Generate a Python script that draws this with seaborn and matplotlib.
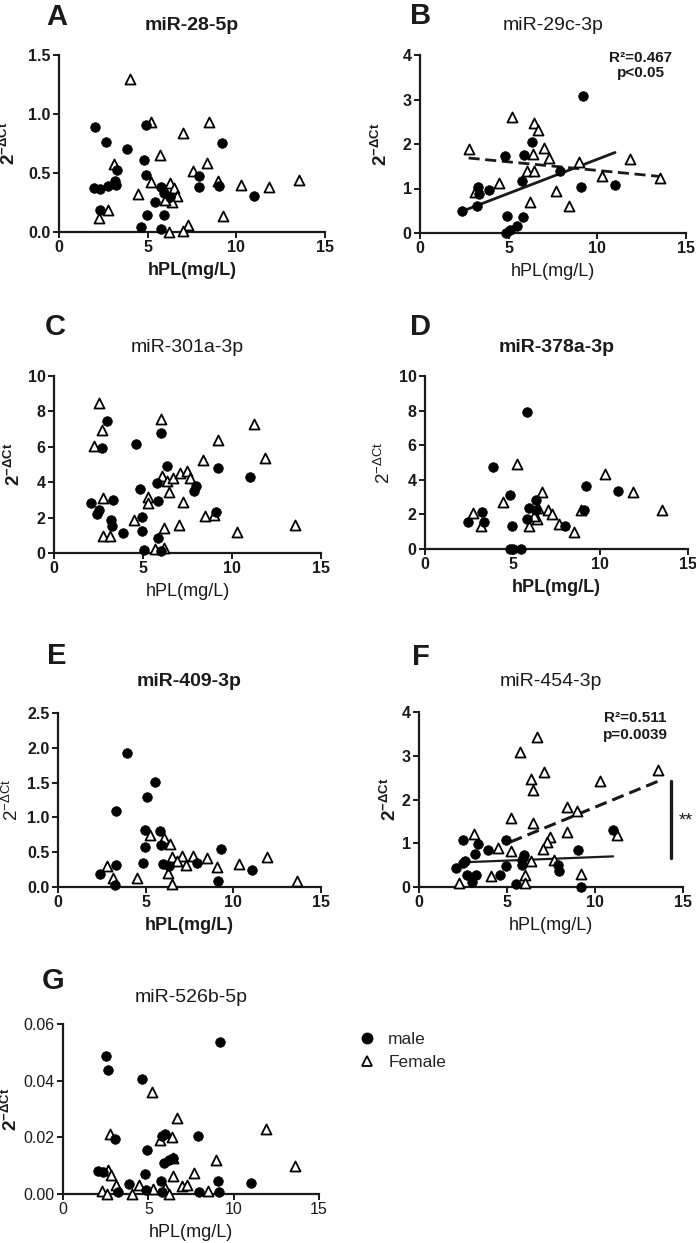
import numpy as np
import pandas as pd
import matplotlib
matplotlib.use("Agg")
import matplotlib.pyplot as plt
from matplotlib.lines import Line2D
import seaborn as sns

# ---- data: hPL (mg/L) vs 2^-dCt, male / female ----
A_male_x = [2.05, 2.63, 3.85, 4.88, 4.81, 4.88, 2.0, 2.33, 2.74, 3.17, 3.27, 3.23, 2.33, 4.62, 4.97,
            5.43, 5.93, 5.76, 5.76, 5.9, 6.27, 7.9, 7.92, 9.18, 9.05, 11.0]
A_male_y = [0.887, 0.763, 0.70, 0.904, 0.607, 0.486, 0.373, 0.364, 0.393, 0.435, 0.523, 0.40, 0.19, 0.04, 0.14,
            0.254, 0.144, 0.023, 0.384, 0.33, 0.294, 0.477, 0.381, 0.754, 0.387, 0.302]
A_fem_x = [4.02, 5.2, 6.98, 8.47, 5.71, 3.08, 8.37, 7.58, 5.2, 6.25, 6.46, 6.65, 6.4, 5.95, 8.99,
           10.25, 11.83, 13.55, 4.43, 2.23, 2.74, 9.24, 7.26, 7.02, 6.18]
A_fem_y = [1.297, 0.935, 0.839, 0.935, 0.655, 0.576, 0.585, 0.514, 0.427, 0.412, 0.373, 0.302, 0.251, 0.274, 0.429,
           0.395, 0.381, 0.443, 0.325, 0.119, 0.184, 0.138, 0.062, 0.006, 0.0]

B_male_x = [9.18, 6.29, 4.82, 5.89, 5.74, 3.27, 3.32, 3.89, 2.38, 3.21, 7.9, 9.09, 11.0, 4.92, 5.8, 5.46, 5.09, 4.86]
B_male_y = [3.07, 2.04, 1.74, 1.75, 1.16, 1.03, 0.876, 0.96, 0.49, 0.60, 1.39, 1.03, 1.08, 0.375, 0.36, 0.15, 0.06, 0.0]
B_fem_x = [2.74, 5.18, 6.42, 6.68, 6.98, 6.38, 7.25, 6.01, 6.44, 4.47, 7.66, 6.21, 8.43, 8.95, 10.25, 11.85, 13.55, 3.1]
B_fem_y = [1.89, 2.61, 2.47, 2.31, 1.90, 1.78, 1.69, 1.40, 1.40, 1.12, 0.94, 0.69, 0.60, 1.59, 1.27, 1.66, 1.23, 0.92]
B_fit_male_x = [2.38, 11.0]
B_fit_male_y = [0.49, 1.81]
B_fit_fem_x = [2.74, 13.55]
B_fit_fem_y = [1.685, 1.27]

C_male_x = [3.0, 2.7, 4.6, 6.0, 6.33, 5.8, 4.82, 5.86, 9.24, 11.02, 7.98, 7.88, 2.08, 2.53, 2.42, 3.34,
            3.23, 3.27, 3.89, 4.92, 4.92, 5.82, 5.05, 6.0, 9.1]
C_male_y = [7.46, 5.92, 6.13, 6.80, 4.92, 3.98, 3.61, 2.91, 4.79, 4.30, 3.76, 3.48, 2.82, 2.44, 2.2, 2.99,
            1.84, 1.50, 1.11, 2.03, 1.22, 0.85, 0.15, 0.13, 2.29]
C_fem_x = [2.53, 2.68, 2.27, 6.03, 11.26, 9.24, 11.88, 8.39, 6.04, 6.35, 6.7, 7.1, 7.49, 7.64, 6.48,
           5.26, 5.26, 7.23, 2.78, 4.5, 8.47, 9.01, 6.19, 7.02, 10.29, 13.55, 2.76, 3.17, 5.69, 6.19]
C_fem_y = [8.5, 6.95, 6.05, 7.59, 7.26, 6.39, 5.38, 5.23, 4.36, 4.04, 4.23, 4.51, 4.61, 4.23, 3.42,
           3.16, 2.82, 2.86, 3.12, 1.84, 2.07, 2.12, 1.43, 1.58, 1.18, 1.58, 0.94, 0.94, 0.23, 0.28]

D_male_x = [5.81, 3.9, 4.87, 9.21, 11.0, 6.34, 5.96, 6.34, 5.83, 9.04, 2.44, 3.24, 3.35, 4.95, 7.96, 4.87, 5.0, 5.48]
D_male_y = [7.94, 4.75, 3.10, 3.62, 3.33, 2.81, 2.37, 2.27, 1.75, 2.27, 1.58, 2.13, 1.56, 1.35, 1.31, 0.0, 0.0, 0.0]
D_fem_x = [5.25, 10.24, 11.86, 13.52, 6.68, 4.47, 2.76, 3.2, 6.47, 6.4, 5.96, 7.01, 7.25, 7.63, 8.47, 8.91, 6.24]
D_fem_y = [4.94, 4.33, 3.31, 2.27, 3.31, 2.71, 2.10, 1.31, 2.37, 1.73, 1.35, 2.27, 2.0, 1.44, 0.96, 2.27, 1.88]

E_male_x = [3.91, 5.51, 5.05, 3.32, 4.94, 5.83, 4.94, 5.85, 9.27, 2.39, 3.28, 3.27, 4.86, 6.0, 6.32, 7.94, 11.07, 9.11]
E_male_y = [1.93, 1.51, 1.30, 1.09, 0.82, 0.80, 0.58, 0.60, 0.54, 0.19, 0.32, 0.03, 0.34, 0.33, 0.30, 0.35, 0.24, 0.08]
E_fem_x = [5.24, 6.04, 6.38, 6.51, 7.08, 7.71, 8.5, 6.76, 7.29, 9.04, 10.31, 11.92, 13.63, 2.77, 3.13, 4.48, 6.27, 6.48]
E_fem_y = [0.74, 0.70, 0.62, 0.43, 0.45, 0.45, 0.41, 0.37, 0.31, 0.29, 0.33, 0.43, 0.09, 0.30, 0.13, 0.13, 0.20, 0.04]

F_male_x = [2.52, 3.33, 3.18, 3.9, 4.94, 5.98, 5.86, 5.83, 4.94, 9.04, 11.03, 7.91, 7.94, 2.08, 2.52,
            2.74, 3.23, 2.99, 4.63, 5.49, 9.23, 2.61]
F_male_y = [1.08, 0.98, 0.76, 0.85, 1.08, 0.74, 0.61, 0.51, 0.47, 0.84, 1.31, 0.51, 0.36, 0.43, 0.55,
            0.28, 0.28, 0.11, 0.27, 0.08, 0.0, 0.59]
F_fem_x = [6.71, 5.73, 7.09, 6.34, 6.45, 10.31, 13.58, 8.42, 9.0, 5.22, 6.45, 3.14, 8.42, 11.24, 7.47,
           7.28, 5.2, 4.5, 7.06, 7.68, 6.36, 9.23, 4.09, 6.01, 2.29, 6.01]
F_fem_y = [3.44, 3.08, 2.63, 2.47, 2.21, 2.42, 2.68, 1.83, 1.74, 1.58, 1.46, 1.21, 1.25, 1.18, 1.14,
           1.03, 0.82, 0.89, 0.87, 0.62, 0.59, 0.30, 0.26, 0.27, 0.09, 0.09]
F_fit_male_x = [2.89, 11.03]
F_fit_male_y = [0.57, 0.70]
F_fit_fem_x = [5.2, 13.6]
F_fit_fem_y = [1.03, 2.42]

G_male_x = [9.19, 2.5, 2.66, 4.64, 3.03, 4.91, 5.98, 5.83, 7.9, 6.42, 5.93, 6.22, 2.03, 2.33, 4.83,
            3.87, 5.77, 9.09, 11.01, 3.23, 4.89, 5.83, 7.94, 9.15]
G_male_y = [0.0535, 0.0486, 0.0439, 0.0406, 0.0194, 0.0154, 0.0212, 0.0204, 0.0206, 0.0127, 0.0109, 0.0121,
            0.0080, 0.0076, 0.0072, 0.0035, 0.0045, 0.0045, 0.0039, 0.0006, 0.0013, 0.0006, 0.0006, 0.0006]
G_fem_x = [5.24, 6.67, 11.87, 2.78, 5.71, 6.38, 8.99, 13.57, 2.66, 2.8, 6.44, 7.69, 7.0, 7.25, 3.09,
           4.46, 2.31, 2.58, 4.07, 5.28, 6.0, 6.22, 8.51, 6.45]
G_fem_y = [0.0359, 0.0268, 0.0229, 0.0212, 0.0192, 0.0201, 0.0121, 0.0100, 0.0086, 0.0067, 0.0062, 0.0074,
           0.0029, 0.0033, 0.0033, 0.0031, 0.0012, 0.0, 0.0, 0.0018, 0.0021, 0.0, 0.0012, 0.0127]

titles = ["miR-28-5p", "miR-29c-3p", "miR-301a-3p", "miR-378a-3p", "miR-409-3p", "miR-454-3p", "miR-526b-5p"]
letters = ["A", "B", "C", "D", "E", "F", "G"]
ymax = [1.5, 4, 10, 10, 2.5, 4, 0.06]
ystep = [0.5, 1, 2, 2, 0.5, 1, 0.02]
yfmt = ["{:.1f}", "{:.0f}", "{:.0f}", "{:.0f}", "{:.1f}", "{:.0f}", "{:.2f}"]

sns.set_style("ticks")
plt.rcParams['font.family'] = ['Liberation Sans', 'DejaVu Sans']
plt.rcParams['mathtext.fontset'] = 'custom'
plt.rcParams['mathtext.rm'] = 'Liberation Sans'
plt.rcParams['mathtext.bf'] = 'Liberation Sans:bold'
plt.rcParams['mathtext.it'] = 'Liberation Sans:italic'

W, H = 696, 1243
fig = plt.figure(figsize=(W / 100, H / 100), dpi=100)

# panel geometry in pixels: left, top, right, bottom
boxes = [(59, 55, 325, 232), (420, 55, 686, 233), (54, 376, 321, 553), (425, 376, 688, 549),
         (58, 713, 321, 887), (419, 712, 683, 887), (63, 1024, 319, 1194)]
ylab_x = [19, 391, 24, 394, 22, 400, 21]
title_y = [25, 25, 347, 347, 682, 682, 997]
letter_xy = [(57, 17), (421, 16), (55, 327), (420, 327), (57, 656), (421, 657), (53, 981)]
title_bold = [True, False, False, True, True, False, False]
ylab_bold = [True, True, True, False, False, True, True]
xlab_bold = [True, False, False, True, True, False, False]
tick_bold = [True, True, True, True, True, True, False]

data = [(A_male_x, A_male_y, A_fem_x, A_fem_y), (B_male_x, B_male_y, B_fem_x, B_fem_y),
        (C_male_x, C_male_y, C_fem_x, C_fem_y), (D_male_x, D_male_y, D_fem_x, D_fem_y),
        (E_male_x, E_male_y, E_fem_x, E_fem_y), (F_male_x, F_male_y, F_fem_x, F_fem_y),
        (G_male_x, G_male_y, G_fem_x, G_fem_y)]

axes = []
for i, (l, t, r, b) in enumerate(boxes):
    ax = fig.add_axes([l / W, 1 - b / H, (r - l) / W, (b - t) / H])
    axes.append(ax)
    mx, my, fx, fy = data[i]
    sns.scatterplot(x=fx, y=fy, marker='^', s=52, facecolor='white', edgecolor='black',
                    linewidth=1.3, ax=ax, clip_on=False, zorder=3)
    sns.scatterplot(x=mx, y=my, marker='o', s=48, color='black', edgecolor='black',
                    linewidth=0.5, ax=ax, clip_on=False, zorder=4)
    ax.set_xlim(0, 15)
    ax.set_ylim(0, ymax[i])
    ax.set_xticks([0, 5, 10, 15])
    yt = np.arange(0, ymax[i] + ystep[i] / 2, ystep[i])
    ax.set_yticks(yt)
    ax.set_yticklabels([yfmt[i].format(v) for v in yt])
    sns.despine(ax=ax)
    for s in ['left', 'bottom']:
        ax.spines[s].set_linewidth(1.6)
        ax.spines[s].set_color('#1a1a1a')
    tw = 'bold' if tick_bold[i] else 'normal'
    ax.tick_params(direction='out', length=4, width=1.4, colors='#1a1a1a', labelsize=11.5, pad=2)
    for lab in ax.get_xticklabels() + ax.get_yticklabels():
        lab.set_fontweight(tw)
    h = b - t
    if ylab_bold[i]:
        ax.set_ylabel(r'$\mathbf{2^{-\Delta Ct}}$', fontsize=13.5, color='#1a1a1a')
    else:
        ax.set_ylabel(r'$\mathrm{2^{-\Delta Ct}}$', fontsize=13.5, color='#1a1a1a')
    ax.yaxis.set_label_coords((ylab_x[i] - l) / (r - l), 0.5)
    ax.set_xlabel('hPL(mg/L)', fontsize=13, color='#1a1a1a',
                  fontweight='bold' if xlab_bold[i] else 'normal')
    ax.xaxis.set_label_coords(0.5, -30 / h)
    fig.text((l + r) / 2 / W, 1 - title_y[i] / H, titles[i], ha='center', va='center', fontsize=14,
             fontweight='bold' if title_bold[i] else 'normal', color='#1a1a1a')
    fig.text(letter_xy[i][0] / W, 1 - letter_xy[i][1] / H, letters[i], ha='center', va='center',
             fontsize=21, fontweight='bold', color='#1a1a1a')

# regression lines
axB, axF = axes[1], axes[5]
sns.lineplot(x=B_fit_male_x, y=B_fit_male_y, ax=axB, color='#1a1a1a', linewidth=2.0)
sns.lineplot(x=B_fit_fem_x, y=B_fit_fem_y, ax=axB, color='#1a1a1a', linewidth=2.0, linestyle=(0, (4, 2)))
sns.lineplot(x=F_fit_male_x, y=F_fit_male_y, ax=axF, color='#1a1a1a', linewidth=1.6)
sns.lineplot(x=F_fit_fem_x, y=F_fit_fem_y, ax=axF, color='#1a1a1a', linewidth=2.2, linestyle=(0, (4, 2)))

axB.text(0.83, 0.985, 'R²=0.467', transform=axB.transAxes, ha='center', va='center', fontsize=11,
         fontweight='bold', color='#1a1a1a')
axB.text(0.83, 0.90, 'p<0.05', transform=axB.transAxes, ha='center', va='center', fontsize=11,
         fontweight='bold', color='#1a1a1a')
axF.text(0.82, 0.965, 'R²=0.511', transform=axF.transAxes, ha='center', va='center', fontsize=11,
         fontweight='bold', color='#1a1a1a')
axF.text(0.82, 0.87, 'p=0.0039', transform=axF.transAxes, ha='center', va='center', fontsize=11,
         fontweight='bold', color='#1a1a1a')

# significance bar between the two fits in F
axF.plot([14.3, 14.3], [F_fit_male_y[1] - 0.04, F_fit_fem_y[1]], color='#1a1a1a', linewidth=2.4, clip_on=False)
axF.text(15.15, 1.5, '**', ha='center', va='center', fontsize=13, color='#1a1a1a', clip_on=False)

# legend
handles = [Line2D([], [], marker='o', linestyle='', color='black', markersize=7.5),
           Line2D([], [], marker='^', linestyle='', markerfacecolor='white', markeredgecolor='black',
                  markeredgewidth=1.3, markersize=7.5)]
fig.legend(handles, ['male', 'Female'], loc='center left', bbox_to_anchor=(357 / W, 1 - 1051 / H),
           frameon=False, fontsize=12.5, handlelength=1.2, handletextpad=0.6, labelspacing=0.45,
           borderpad=0, borderaxespad=0)

fig.savefig('out.png', dpi=100)
